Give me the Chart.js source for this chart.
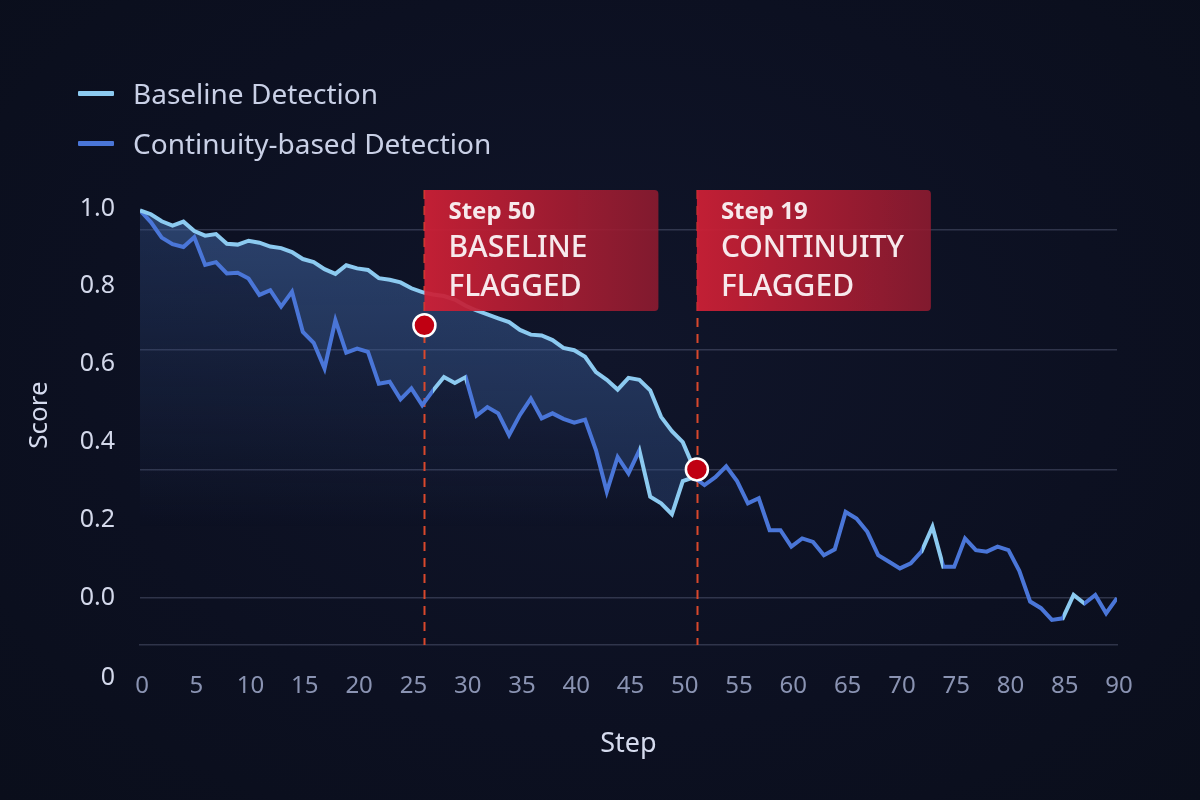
<!DOCTYPE html>
<html>
<head>
<meta charset="utf-8">
<script src="https://cdn.jsdelivr.net/npm/chart.js@4.4.0/dist/chart.umd.min.js"></script>
<style>
  html, body { margin: 0; padding: 0; }
  body {
    width: 1200px; height: 800px; overflow: hidden;
    background: radial-gradient(ellipse at 50% 45%, #10152a 0%, #0c1021 60%, #0a0e1b 100%);
    font-family: "Noto Sans", sans-serif;
  }
  #wrap { position: relative; width: 1200px; height: 800px; }
  #chart { position: absolute; left: 0; top: 0; }
  #legend { position: absolute; left: 78px; top: 73px; color: #c9d0e6; font-size: 28px; }
  .item { display: flex; align-items: center; height: 40px; margin-bottom: 10px; }
  .swatch { width: 36px; height: 5px; margin-right: 19px; border-radius: 1px; }
</style>
</head>
<body>
<div id="wrap">
  <canvas id="chart" width="1200" height="800"></canvas>
  <div id="legend">
    <div class="item"><span class="swatch" style="background:#8ccaf0"></span>Baseline Detection</div>
    <div class="item"><span class="swatch" style="background:#4a76d8"></span>Continuity-based Detection</div>
  </div>
</div>
<script>
// scores, one per step
const baselineScores = [
  0.995, 0.985, 0.967, 0.956, 0.966, 0.942, 0.930, 0.934, 0.909, 0.907,
  0.917, 0.912, 0.902, 0.898, 0.888, 0.870, 0.862, 0.844, 0.832, 0.854,
  0.846, 0.842, 0.821, 0.817, 0.810, 0.795, 0.785, 0.779, 0.775, 0.766,
  0.750, 0.738, 0.728, 0.718, 0.708, 0.688, 0.676, 0.674, 0.662, 0.642,
  0.636, 0.619, 0.580, 0.560, 0.535, 0.565, 0.560, 0.533, 0.465, 0.428,
  0.400, 0.335
];
const continuityScores = [
  0.995, 0.965, 0.925, 0.908, 0.901, 0.926, 0.855, 0.862, 0.833, 0.835,
  0.820, 0.778, 0.790, 0.748, 0.786, 0.683, 0.655, 0.589, 0.713, 0.630,
  0.640, 0.632, 0.550, 0.555, 0.510, 0.538, 0.495, 0.533, 0.567, 0.552,
  0.567, 0.468, 0.490, 0.474, 0.418, 0.470, 0.512, 0.461, 0.474, 0.460,
  0.450, 0.458, 0.380, 0.273, 0.362, 0.320, 0.379, 0.260, 0.243, 0.215,
  0.300, 0.310, 0.290, 0.310, 0.338, 0.300, 0.243, 0.256, 0.174, 0.174,
  0.132, 0.153, 0.144, 0.110, 0.125, 0.221, 0.204, 0.170, 0.110, 0.093,
  0.076, 0.089, 0.120, 0.183, 0.080, 0.080, 0.153, 0.123, 0.119, 0.132,
  0.123, 0.070, -0.009, -0.026, -0.056, -0.052, 0.008, -0.014, 0.008, -0.039,
  0.000
];
const xTickValues = [0, 5, 10, 15, 20, 25, 30, 35, 40, 45, 50, 55, 60, 65, 70, 75, 80, 85, 90];
const yTickValues = [-0.205, 0, 0.2, 0.4, 0.6, 0.8, 1.0];
const yTickLabels = ['0', '0.0', '0.2', '0.4', '0.6', '0.8', '1.0'];
const yGridValues = [0, 0.328, 0.636, 0.944];

const flagSteps = [26.2, 51.3];
const flagScores = [0.70, 0.33];
const flagTitles = ['Step 50', 'Step 19'];
const flagLabels = [['BASELINE', 'FLAGGED'], ['CONTINUITY', 'FLAGGED']];

const LIGHT = '#8ccaf0';
const DARK = '#4a76d8';
const GRID = 'rgba(150,160,195,0.26)';
// stretches where the continuity line shows in the lighter tone
const lightSpans = [[27, 30], [46, 51], [72, 74], [85, 87]];

const near = (a, b) => Math.abs(a - b) < 1e-6;

function gradFill(ctx, stops) {
  const chart = ctx.chart;
  if (!chart.chartArea) return 'transparent';
  const y = chart.scales.y;
  const g = chart.ctx.createLinearGradient(0, y.getPixelForValue(stops[0][0]), 0, y.getPixelForValue(stops[1][0]));
  g.addColorStop(0, stops[0][1]);
  g.addColorStop(1, stops[1][1]);
  return g;
}

function spanStroke(ctx) {
  const chart = ctx.chart;
  const area = chart.chartArea;
  if (!area) return DARK;
  const xs = chart.scales.x;
  const w = area.right - area.left;
  const g = chart.ctx.createLinearGradient(area.left, 0, area.right, 0);
  g.addColorStop(0, DARK);
  lightSpans.forEach(([a, b]) => {
    const fa = (xs.getPixelForValue(a) - area.left) / w;
    const fb = (xs.getPixelForValue(b) - area.left) / w;
    g.addColorStop(fa, DARK);
    g.addColorStop(fa, LIGHT);
    g.addColorStop(fb, LIGHT);
    g.addColorStop(fb, DARK);
  });
  g.addColorStop(1, DARK);
  return g;
}

const flagPlugin = {
  id: 'flags',
  beforeDatasetsDraw(chart) {
    const {ctx, chartArea, scales} = chart;
    ctx.save();
    ctx.strokeStyle = '#d9482c';
    ctx.lineWidth = 2;
    ctx.setLineDash([9, 7]);
    flagSteps.forEach(s => {
      const x = Math.round(scales.x.getPixelForValue(s)) + 0.5;
      ctx.beginPath();
      ctx.moveTo(x, chartArea.top + 5);
      ctx.lineTo(x, chartArea.bottom);
      ctx.stroke();
    });
    ctx.restore();
  },
  afterDatasetsDraw(chart) {
    const {ctx, chartArea, scales} = chart;
    const top = chartArea.top + 5;
    const w = 234, h = 121;
    ctx.save();
    flagSteps.forEach((s, i) => {
      const x = scales.x.getPixelForValue(s);
      const g = ctx.createLinearGradient(x, 0, x + w, 0);
      g.addColorStop(0, 'rgba(206,32,54,0.94)');
      g.addColorStop(1, 'rgba(145,27,48,0.88)');
      ctx.fillStyle = g;
      ctx.beginPath();
      ctx.roundRect(x, top, w, h, [0, 4, 4, 0]);
      ctx.fill();
      ctx.fillStyle = '#f7e9ec';
      ctx.textAlign = 'left';
      ctx.textBaseline = 'middle';
      ctx.font = 'bold 24px "Noto Sans"';
      ctx.fillText(flagTitles[i], x + 24, top + 22);
      ctx.font = '500 30px "Noto Sans"';
      ctx.fillText(flagLabels[i][0], x + 24, top + 58);
      ctx.fillText(flagLabels[i][1], x + 24, top + 97);
    });
    ctx.restore();
  }
};

new Chart(document.getElementById('chart'), {
  type: 'line',
  data: {
    datasets: [
      {
        label: 'Baseline Detection',
        data: baselineScores.map((v, i) => ({x: i, y: v})),
        borderColor: LIGHT,
        borderWidth: 4,
        pointRadius: 0,
        tension: 0,
        order: 1,
        fill: '+1',
        backgroundColor: c => gradFill(c, [[1.0, 'rgba(68,106,168,0.56)'], [0.3, 'rgba(48,78,132,0.40)']])
      },
      {
        label: 'Continuity-based Detection',
        data: continuityScores.map((v, i) => ({x: i, y: v})),
        borderColor: spanStroke,
        borderWidth: 4,
        pointRadius: 0,
        tension: 0,
        order: 2,
        fill: 'origin',
        backgroundColor: c => gradFill(c, [[0.95, 'rgba(52,82,140,0.38)'], [0.18, 'rgba(52,82,140,0)']])
      },
      {
        label: 'flags',
        data: flagSteps.map((s, i) => ({x: s, y: flagScores[i]})),
        showLine: false,
        pointRadius: 11,
        pointBackgroundColor: '#c00012',
        pointBorderColor: '#ffffff',
        pointBorderWidth: 2.5,
        order: 0,
        fill: false
      }
    ]
  },
  options: {
    responsive: false,
    animation: false,
    layout: { padding: { top: 185, right: 83, left: 0, bottom: 0 } },
    plugins: {
      legend: { display: false },
      tooltip: { enabled: false },
      filler: { drawTime: 'beforeDatasetsDraw' }
    },
    scales: {
      x: {
        type: 'linear',
        min: 0,
        max: 90,
        afterBuildTicks: s => { s.ticks = xTickValues.map(v => ({value: v})); },
        afterFit: s => { s.height = 155; },
        grid: { display: false, drawTicks: false },
        border: { display: true, color: GRID, width: 1.5 },
        ticks: {
          autoSkip: false, maxRotation: 0, padding: 27, labelOffset: 2,
          color: '#8a93b2', font: { family: 'Noto Sans', size: 24 }
        },
        title: {
          display: true, text: 'Step', color: '#d5dbee',
          font: { family: 'Noto Sans', size: 27 }, padding: { top: 0, bottom: 39 }
        }
      },
      y: {
        type: 'linear',
        min: -0.1205,
        max: 1.06,
        afterBuildTicks: s => {
          const vals = [...new Set(yTickValues.concat(yGridValues))].sort((a, b) => a - b);
          s.ticks = vals.map(v => ({value: v}));
        },
        afterFit: s => { s.width = 140; },
        grid: {
          drawTicks: false,
          lineWidth: 1.5,
          color: c => (c.tick && yGridValues.some(v => near(v, c.tick.value))) ? GRID : 'transparent'
        },
        border: { display: false },
        ticks: {
          autoSkip: false, padding: 25,
          color: '#d3d8ea', font: { family: 'Noto Sans', size: 25 },
          callback: v => {
            const k = yTickValues.findIndex(t => near(t, v));
            return k >= 0 ? yTickLabels[k] : '';
          }
        },
        title: {
          display: true, text: 'Score', color: '#d5dbee',
          font: { family: 'Noto Sans', size: 26 }, padding: { top: 24, bottom: 0 }
        }
      }
    }
  },
  plugins: [flagPlugin]
});
</script>
</body>
</html>
